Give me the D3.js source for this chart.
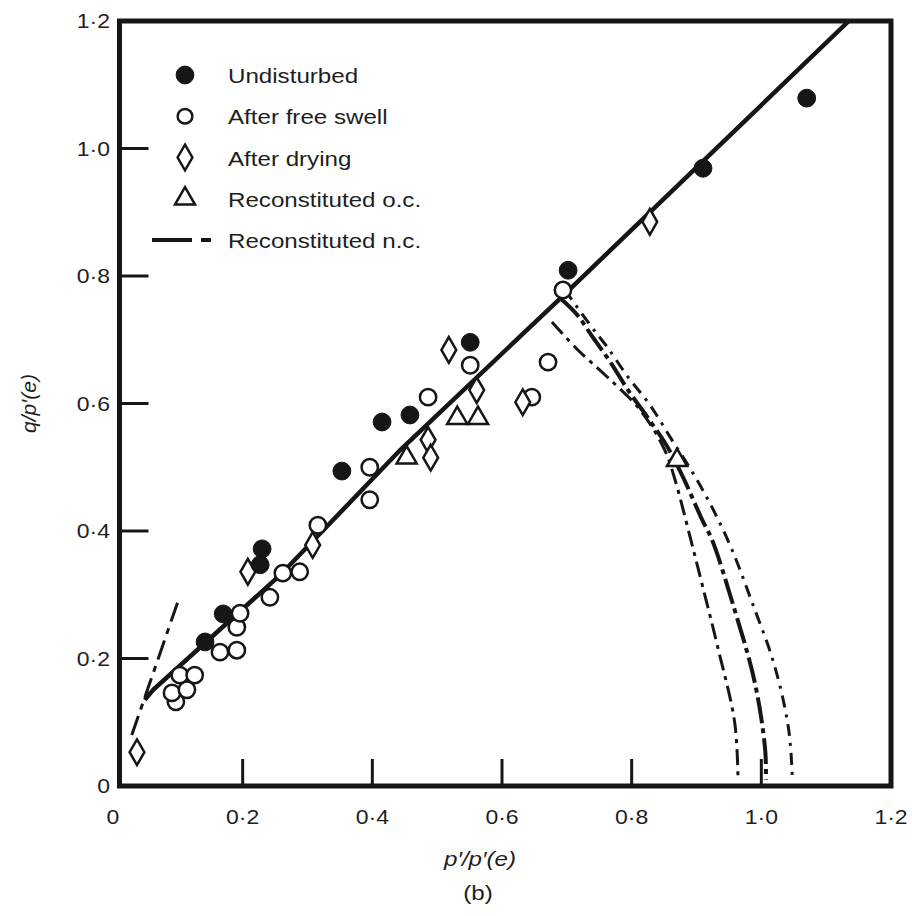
<!DOCTYPE html>
<html>
<head>
<meta charset="utf-8">
<script src="https://cdn.jsdelivr.net/npm/d3@7"></script>
<style>
  body { margin: 0; background: #fff; }
  svg { display: block; }
  text { font-family: "Liberation Sans", Arial, sans-serif; fill: #1e1e1e; }
</style>
</head>
<body>
<svg id="chart"></svg>
<script>
// values: [p'/p'(e), q/p'(e)]
let undisturbed = [[0.17,0.27],[0.142,0.226],[0.23,0.372],[0.227,0.347],[0.353,0.494],[0.415,0.571],
  [0.458,0.582],[0.551,0.696],[0.702,0.809],[0.91,0.969],[1.07,1.079]];
let freeSwell = [[0.097,0.132],[0.091,0.146],[0.114,0.151],[0.103,0.174],[0.126,0.174],[0.165,0.21],
  [0.191,0.213],[0.191,0.249],[0.196,0.271],[0.242,0.296],[0.262,0.334],[0.288,0.336],[0.316,0.409],
  [0.396,0.5],[0.396,0.449],[0.486,0.61],[0.551,0.66],[0.671,0.665],[0.646,0.61],[0.694,0.778]];
let afterDrying = [[0.037,0.053],[0.208,0.336],[0.308,0.378],[0.486,0.543],[0.49,0.515],[0.518,0.684],
  [0.561,0.621],[0.632,0.602],[0.828,0.885]];
let reconOC = [[0.453,0.515],[0.531,0.577],[0.563,0.577],[0.87,0.511]];

// solid critical-state line and the n.c. paths
let stateLine = [[0.049,0.135],[0.062,0.151],[0.258,0.331],[0.443,0.527],[0.69,0.765],[1.135,1.2]];
let ncLow = [[0.029,0.08],[0.10,0.289]];
let ncPathA = [[0.677,0.728],[0.717,0.684],[0.762,0.642],[0.813,0.59],[0.851,0.527],[0.867,0.48],
  [0.89,0.391],[0.909,0.315],[0.932,0.221],[0.959,0.099],[0.964,0.01]];
let ncPathB = [[0.69,0.765],[0.716,0.739],[0.74,0.704],[0.767,0.665],[0.797,0.617],[0.824,0.579],
  [0.855,0.532],[0.879,0.485],[0.909,0.417],[0.924,0.386],[0.955,0.289],[0.99,0.162],[1.006,0.056],[1.007,0.01]];
let ncPathC = [[0.697,0.778],[0.736,0.723],[0.762,0.689],[0.794,0.642],[0.828,0.598],[0.862,0.543],
  [0.895,0.49],[0.925,0.435],[0.955,0.37],[0.985,0.29],[1.02,0.19],[1.042,0.09],[1.048,0.01]];

let tickValues = [0, 0.2, 0.4, 0.6, 0.8, 1.0, 1.2];
let tickLabels = ["0", "0·2", "0·4", "0·6", "0·8", "1·0", "1·2"];
let legendLabels = ["Undisturbed", "After free swell", "After drying", "Reconstituted o.c.", "Reconstituted n.c."];

let width = 912;
let height = 916;

let svg = d3.select("#chart")
  .attr("width", width)
  .attr("height", height);

let x = d3.scaleLinear().domain([0, 1.2]).range([113, 891]);
let y = d3.scaleLinear().domain([0, 1.2]).range([786, 21]);

let ink = "#161616";
let sx = 1.15; // the scan is stretched sideways

function label(sel, px, py, str, anchor, size, italic) {
  return sel.append("text")
    .attr("transform", `translate(${px},${py}) scale(${sx},1)`)
    .attr("text-anchor", anchor)
    .attr("font-size", size)
    .attr("font-style", italic ? "italic" : null)
    .text(str);
}

let plot = svg.append("g");

svg.append("clipPath").attr("id", "clip")
  .append("rect")
  .attr("x", x(0.01)).attr("y", y(1.2))
  .attr("width", x(1.2) - x(0.01)).attr("height", y(0) - y(1.2));

// inward ticks
let inner = tickValues.slice(1, 6);
plot.append("g").selectAll("line")
  .data(inner)
  .enter().append("line")
    .attr("x1", d => x(d)).attr("x2", d => x(d))
    .attr("y1", y(0)).attr("y2", y(0) - 27)
    .attr("stroke", ink).attr("stroke-width", 3);
plot.append("g").selectAll("line")
  .data(inner)
  .enter().append("line")
    .attr("x1", x(0.01)).attr("x2", x(0.01) + 29)
    .attr("y1", d => y(d)).attr("y2", d => y(d))
    .attr("stroke", ink).attr("stroke-width", 3);

// tick labels
tickValues.forEach((v, i) => {
  label(svg, x(v), 824, tickLabels[i], "middle", 20);
  label(svg, 110, y(v) + 7, tickLabels[i], "end", 20);
});

let line = d3.line().x(d => x(d[0])).y(d => y(d[1]));
let curve = d3.line().x(d => x(d[0])).y(d => y(d[1])).curve(d3.curveCatmullRom);

let lines = plot.append("g").attr("clip-path", "url(#clip)");

lines.append("path").datum(stateLine)
  .attr("d", line).attr("fill", "none")
  .attr("stroke", ink).attr("stroke-width", 4.5);

lines.append("path").datum(ncLow)
  .attr("d", line).attr("fill", "none")
  .attr("stroke", ink).attr("stroke-width", 3)
  .attr("stroke-dasharray", "20,7,6,7");

let paths = [
  {data: ncPathA, dash: "16,6,4,6", w: 3},
  {data: ncPathB, dash: "26,5,5,5", w: 4},
  {data: ncPathC, dash: "12,7,3,7", w: 3}
];
paths.forEach(p => {
  lines.append("path").datum(p.data)
    .attr("d", curve).attr("fill", "none")
    .attr("stroke", ink).attr("stroke-width", p.w)
    .attr("stroke-dasharray", p.dash);
});

// markers
let circleSym = d3.symbol().type(d3.symbolCircle).size(250);
let diamondSym = d3.symbol().type(d3.symbolDiamond).size(190);
let triangleSym = d3.symbol().type(d3.symbolTriangle).size(175);

function addMarkers(data, sym, filled) {
  plot.append("g").selectAll("path")
    .data(data)
    .enter().append("path")
      .attr("d", sym())
      .attr("transform", d => `translate(${x(d[0])},${y(d[1])})`)
      .attr("fill", filled ? ink : "#fff")
      .attr("stroke", ink)
      .attr("stroke-width", filled ? 1 : 2.5);
}

addMarkers(freeSwell, d3.symbol().type(d3.symbolCircle).size(210), false);
addMarkers(afterDrying, diamondSym, false);
addMarkers(reconOC, triangleSym, false);
addMarkers(undisturbed, circleSym, true);

// frame
plot.append("rect")
  .attr("x", x(0.01)).attr("y", y(1.2))
  .attr("width", x(1.2) - x(0.01)).attr("height", y(0) - y(1.2))
  .attr("fill", "none").attr("stroke", ink).attr("stroke-width", 5);

// legend
let legend = svg.append("g");
let rowY = d3.scalePoint().domain(legendLabels).range([75, 240]);
let markX = 185;
let legendSyms = [
  {sym: circleSym, filled: true},
  {sym: d3.symbol().type(d3.symbolCircle).size(170), filled: false},
  {sym: diamondSym, filled: false},
  {sym: triangleSym, filled: false}
];
legendSyms.forEach((s, i) => {
  legend.append("path")
    .attr("d", s.sym())
    .attr("transform", `translate(${markX},${rowY(legendLabels[i])})`)
    .attr("fill", s.filled ? ink : "#fff")
    .attr("stroke", ink).attr("stroke-width", s.filled ? 1 : 2.5);
});
let lastY = rowY(legendLabels[4]);
legend.append("line")
  .attr("x1", 152).attr("x2", 215).attr("y1", lastY).attr("y2", lastY)
  .attr("stroke", ink).attr("stroke-width", 4)
  .attr("stroke-dasharray", "40,9,10,20");
legendLabels.forEach(t => label(legend, 228, rowY(t) + 8, t, "start", 21));

// axis titles
label(svg, 480, 866, "p′/p′(e)", "middle", 21, true);
label(svg, 478, 900, "(b)", "middle", 21);
svg.append("text")
  .attr("transform", `translate(36,${y(0.6)}) rotate(-90)`)
  .attr("text-anchor", "middle")
  .attr("font-size", 21)
  .attr("font-style", "italic")
  .text("q/p′(e)");
</script>
</body>
</html>
